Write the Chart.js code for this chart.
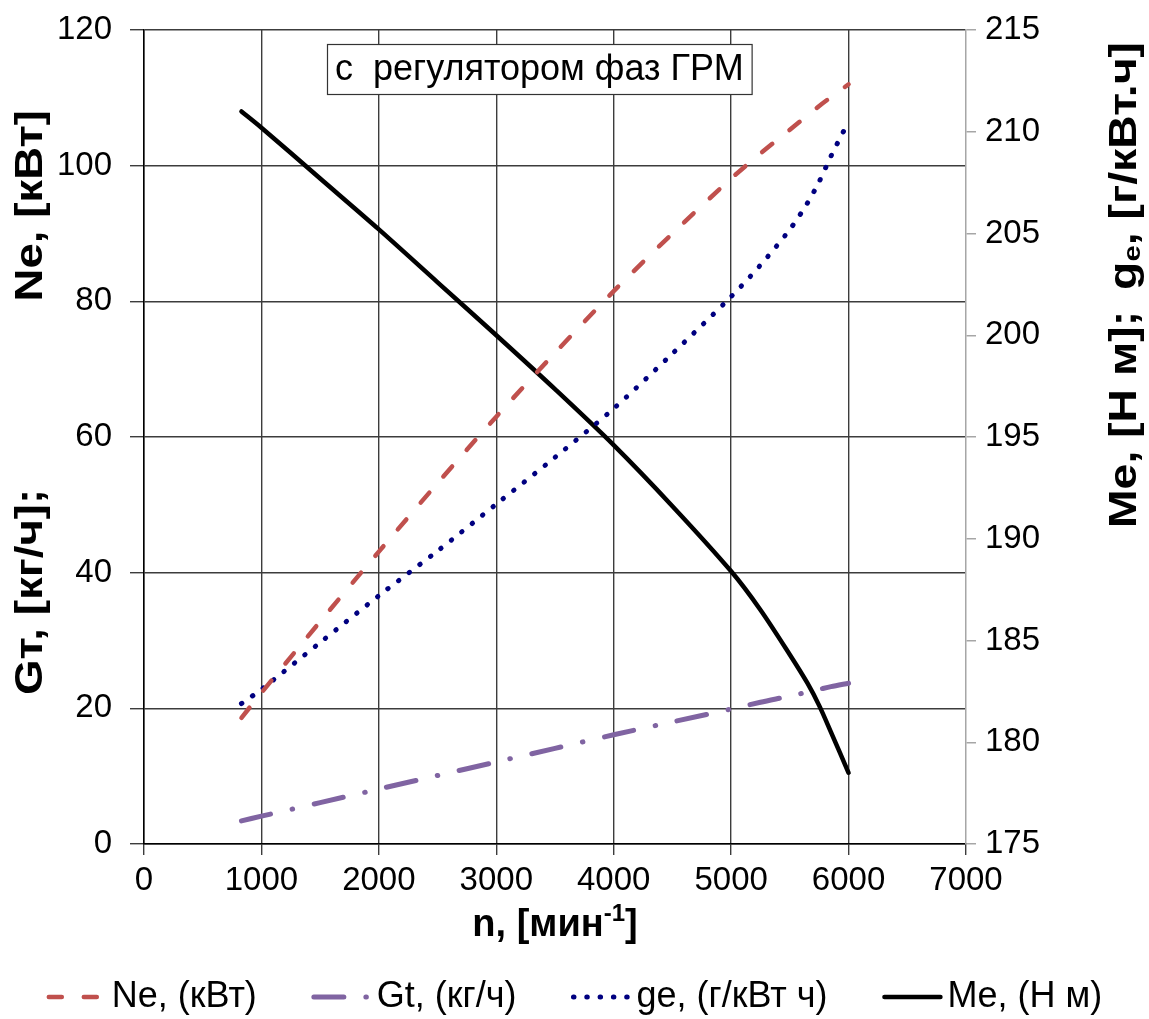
<!DOCTYPE html>
<html>
<head>
<meta charset="utf-8">
<script src="https://cdn.jsdelivr.net/npm/chart.js@4.4.1/dist/chart.umd.min.js"></script>
<style>
  html, body { margin: 0; padding: 0; background: #fff; }
  #wrap { width: 1149px; height: 1019px; }
</style>
</head>
<body>
<div id="wrap"><canvas id="engineChart"></canvas></div>
<script>
// частота вращения, мин-1
const rpm = [830, 1000, 1500, 2000, 2500, 3000, 3500, 4000, 4500, 5000, 5250, 5500, 5650, 5750, 5850, 6000];
// мощность Ne, кВт
const nePower = [18.6, 22.3, 32.8, 43.1, 53.2, 63.0, 72.4, 81.5, 90.0, 98.1, 101.8, 105.3, 107.4, 108.8, 110.1, 112.0];
// расход топлива Gt, кг/ч
const gtFuel = [3.4, 4.1, 6.1, 8.1, 10.1, 12.1, 14.1, 16.1, 18.0, 19.9, 20.9, 21.8, 22.4, 22.8, 23.2, 23.7];
// удельный расход ge, г/кВт ч
const geSpecific = [181.9, 182.6, 184.9, 187.2, 189.4, 191.7, 194.0, 196.4, 199.1, 201.9, 203.45, 205.2, 206.5, 207.55, 208.8, 210.5];
// крутящий момент Me, Н м
const meTorque = [211.0, 210.2, 207.7, 205.2, 202.6, 200.0, 197.35, 194.6, 191.6, 188.4, 186.5, 184.3, 182.9, 181.8, 180.5, 178.5];

const xTicks = [0, 1000, 2000, 3000, 4000, 5000, 6000, 7000];
const leftTicks = [0, 20, 40, 60, 80, 100, 120];
const rightTicks = [175, 180, 185, 190, 195, 200, 205, 210, 215];

const FONT = '"Liberation Sans", Arial, sans-serif';
const GRID = '#3c3c3c';
const AXIS_GRAY = '#a6a6a6';

function points(values) {
  return rpm.map((n, i) => ({ x: n, y: values[i] }));
}

function setTicks(list) {
  return scale => { scale.ticks = list.map(v => ({ value: v })); };
}

// фиксированная ширина вертикальной оси без лишнего отступа сверху
function fixAxis(width) {
  return scale => {
    scale.width = width;
    scale.paddingTop = 20;
    scale.paddingBottom = 20;
  };
}

// рисует строку из кусков (обычный текст, индекс, степень)
function drawRun(ctx, segs, x, y, size) {
  segs.forEach(s => {
    const small = s.sub || s.sup;
    const fs = small ? Math.round(size * 0.62) : size;
    ctx.font = 'bold ' + fs + 'px ' + FONT;
    const dy = s.sub ? size * 0.2 : (s.sup ? -size * 0.3 : 0);
    ctx.fillText(s.t, x, y + dy);
    x += ctx.measureText(s.t).width;
  });
  return x;
}
function runWidth(ctx, segs, size) {
  let w = 0;
  segs.forEach(s => {
    const fs = (s.sub || s.sup) ? Math.round(size * 0.62) : size;
    ctx.font = 'bold ' + fs + 'px ' + FONT;
    w += ctx.measureText(s.t).width;
  });
  return w;
}
// растянутый вдоль строки текст (подписи вертикальных осей)
function drawStretched(ctx, segs, x, size, sx) {
  ctx.save();
  ctx.translate(x, 0);
  ctx.scale(sx, 1);
  drawRun(ctx, segs, 0, 0, size);
  ctx.restore();
}

const overlay = {
  id: 'overlay',
  afterDraw(chart) {
    const ctx = chart.ctx;
    const area = chart.chartArea;
    ctx.save();
    ctx.fillStyle = '#000';
    ctx.textBaseline = 'middle';
    ctx.textAlign = 'left';

    // подпись в рамке
    const label = 'с  регулятором фаз ГРМ';
    ctx.font = '36px ' + FONT;
    const tw = ctx.measureText(label).width;
    const bx = area.left + 183, by = area.top + 14;
    const bw = tw + 16, bh = 50;
    ctx.fillStyle = '#fff';
    ctx.fillRect(bx, by, bw, bh);
    ctx.strokeStyle = '#333';
    ctx.lineWidth = 1.2;
    ctx.strokeRect(bx + 0.5, by + 0.5, bw, bh);
    ctx.fillStyle = '#000';
    ctx.fillText(label, bx + 8, by + bh / 2 + 1);

    const size = 38;

    // ось X
    const xTitle = [{ t: 'n, [мин' }, { t: '-1', sup: true }, { t: ']' }];
    const xw = runWidth(ctx, xTitle, size);
    drawRun(ctx, xTitle, (area.left + area.right) / 2 - xw / 2, area.bottom + 82, size);

    // левая ось
    const g1 = [{ t: 'Gт, [кг/ч];' }];
    const n1 = [{ t: 'Ne, [кВт]' }];
    const sl = 1.2;
    ctx.save();
    ctx.translate(area.left - 112, area.bottom - 149);
    ctx.rotate(-Math.PI / 2);
    drawStretched(ctx, g1, 0, size, sl);
    const spanL = (area.bottom - 149) - (area.top + 80);
    drawStretched(ctx, n1, spanL - runWidth(ctx, n1, size) * sl, size, sl);
    ctx.restore();

    // правая ось
    const m1 = [{ t: 'Me, [Н м];' }];
    const ge1 = [{ t: 'g' }, { t: 'e', sub: true }, { t: ', [г/кВт.ч]' }];
    const sr = 1.22;
    ctx.save();
    ctx.translate(area.right + 160, area.top + 498);
    ctx.rotate(-Math.PI / 2);
    drawStretched(ctx, m1, 0, size, sr);
    const spanR = 498 - 12;
    drawStretched(ctx, ge1, spanR - runWidth(ctx, ge1, size) * sr, size, sr);
    ctx.restore();

    // легенда внизу
    const sample = 60, gapText = 5, gapItem = 55;
    const legY = chart.height - 22;
    ctx.font = '36px ' + FONT;
    const items = chart.data.datasets.map(ds => ({ ds, w: ctx.measureText(ds.label).width }));
    const total = items.reduce((a, it) => a + sample + gapText + it.w, 0) + gapItem * (items.length - 1);
    let lx = chart.width / 2 - total / 2;
    items.forEach(it => {
      const ds = it.ds;
      ctx.save();
      ctx.strokeStyle = ds.borderColor;
      ctx.lineWidth = ds.borderWidth;
      ctx.lineCap = ds.borderCapStyle || 'butt';
      ctx.setLineDash(ds.borderDash || []);
      ctx.beginPath();
      ctx.moveTo(lx + 2, legY);
      ctx.lineTo(lx + sample - 2, legY);
      ctx.stroke();
      ctx.restore();
      ctx.fillStyle = '#000';
      ctx.font = '36px ' + FONT;
      ctx.fillText(ds.label, lx + sample + gapText, legY);
      lx += sample + gapText + it.w + gapItem;
    });

    ctx.restore();
  }
};

const ctxMain = document.getElementById('engineChart').getContext('2d');
const engineChart = new Chart(ctxMain, {
  type: 'line',
  data: {
    datasets: [
      {
        label: 'Ne, (кВт)',
        data: points(nePower),
        yAxisID: 'y',
        borderColor: '#C0504D',
        borderWidth: 4.5,
        borderDash: [13, 22],
        borderCapStyle: 'round'
      },
      {
        label: 'Gt, (кг/ч)',
        data: points(gtFuel),
        yAxisID: 'y',
        borderColor: '#8064A2',
        borderWidth: 5,
        borderDash: [30, 22, 0.5, 22],
        borderCapStyle: 'round'
      },
      {
        label: 'ge, (г/кВт ч)',
        data: points(geSpecific),
        yAxisID: 'y2',
        borderColor: '#000080',
        borderWidth: 5,
        borderDash: [0.5, 12.8],
        borderCapStyle: 'round'
      },
      {
        label: 'Me, (Н м)',
        data: points(meTorque),
        yAxisID: 'y2',
        borderColor: '#000',
        borderWidth: 4.5,
        borderCapStyle: 'round'
      }
    ]
  },
  options: {
    responsive: true,
    maintainAspectRatio: false,
    animation: false,
    layout: {
      padding: { top: 30, left: 0, right: 0, bottom: 94 }
    },
    elements: {
      point: { radius: 0, hoverRadius: 0 },
      line: { tension: 0.3, fill: false }
    },
    plugins: {
      tooltip: { enabled: false },
      legend: { display: false }
    },
    scales: {
      x: {
        type: 'linear',
        min: 0,
        max: 7000,
        afterBuildTicks: setTicks(xTicks),
        afterFit: s => { s.height = 81; },
        ticks: { color: '#000', padding: 6, font: { family: FONT, size: 33 }, callback: v => String(v) },
        grid: {
          color: c => (c.tick && c.tick.value === 7000 ? 'rgba(0,0,0,0)' : GRID),
          tickColor: GRID,
          lineWidth: 1.4,
          tickLength: 11
        },
        border: { color: '#000', width: 1.5 }
      },
      y: {
        type: 'linear',
        position: 'left',
        min: 0,
        max: 120,
        afterBuildTicks: setTicks(leftTicks),
        afterFit: fixAxis(144),
        ticks: { color: '#000', padding: 18, font: { family: FONT, size: 33 }, callback: v => String(v) },
        grid: { color: GRID, lineWidth: 1.4, tickLength: 14 },
        border: { color: '#000', width: 1.5 }
      },
      y2: {
        type: 'linear',
        position: 'right',
        min: 175,
        max: 215,
        afterBuildTicks: setTicks(rightTicks),
        afterFit: fixAxis(183),
        ticks: { color: '#000', padding: 9, font: { family: FONT, size: 33 }, callback: v => String(v) },
        grid: { drawOnChartArea: false, color: AXIS_GRAY, lineWidth: 1.5, tickLength: 10 },
        border: { color: AXIS_GRAY, width: 1.5 }
      }
    }
  },
  plugins: [overlay]
});
</script>
</body>
</html>
